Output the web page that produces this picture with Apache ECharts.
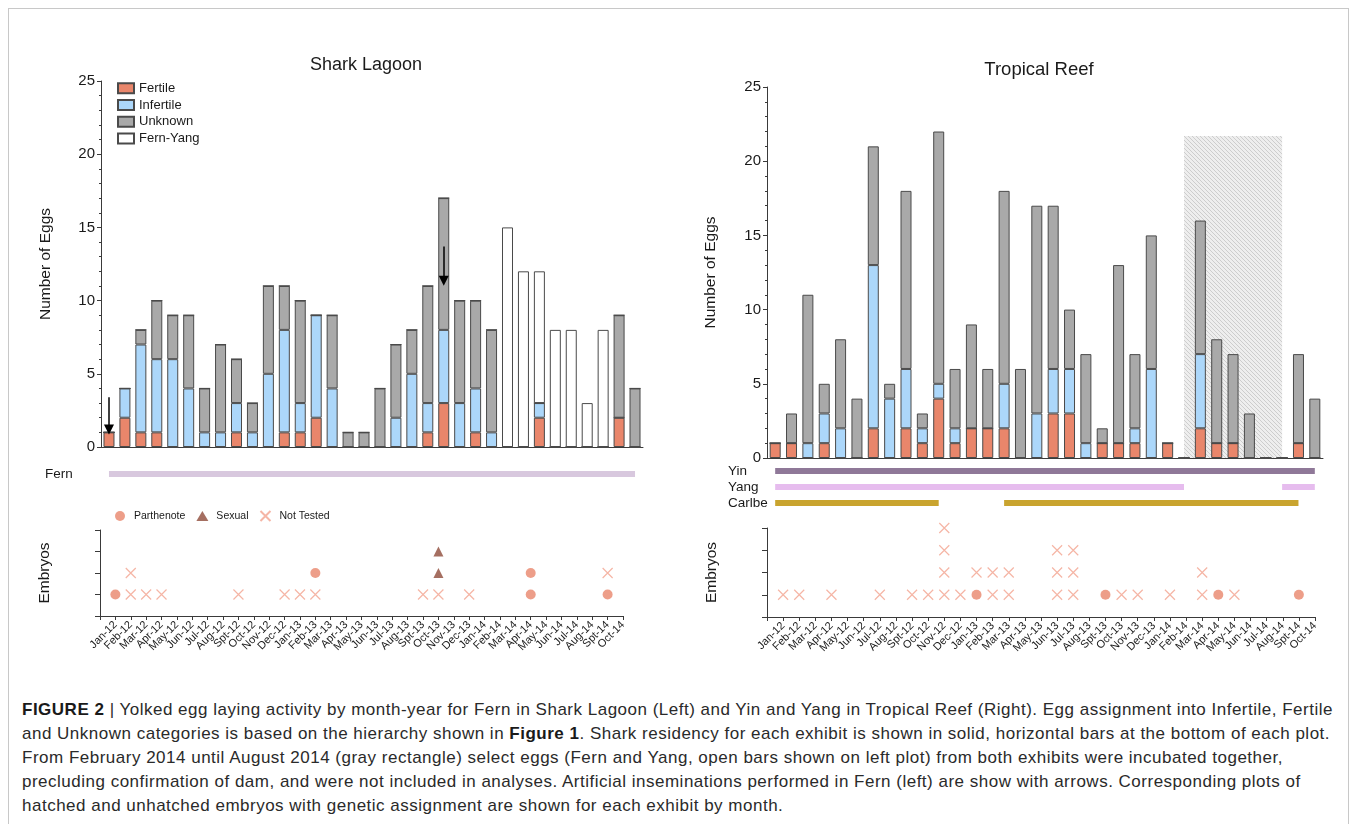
<!DOCTYPE html>
<html>
<head>
<meta charset="utf-8">
<title>Figure 2</title>
<script src="https://cdn.jsdelivr.net/npm/echarts@6.0.0/dist/echarts.min.js"></script>
<style>
  html, body { margin: 0; padding: 0; background: #fff; }
  #frame { position: absolute; left: 8px; top: 8px; width: 1339px; height: 830px; border: 1px solid #c8c8c8; }
  #chart { position: absolute; left: 0; top: 0; width: 1356px; height: 690px; }
  #caption {
    position: absolute; left: 22px; top: 698px; width: 1330px;
    font-family: "Liberation Sans", Arial, sans-serif; font-size: 17px; line-height: 24px;
    letter-spacing: 0.5px; color: #2a2a2a; white-space: nowrap;
  }
  #caption b { font-weight: bold; color: #1a1a1a; }
</style>
</head>
<body>
<div id="frame"></div>
<div id="chart"></div>
<div id="caption">
<b>FIGURE 2</b> | Yolked egg laying activity by month-year for Fern in Shark Lagoon (Left) and Yin and Yang in Tropical Reef (Right). Egg assignment into Infertile, Fertile<br>
and Unknown categories is based on the hierarchy shown in <b>Figure 1</b>. Shark residency for each exhibit is shown in solid, horizontal bars at the bottom of each plot.<br>
From February 2014 until August 2014 (gray rectangle) select eggs (Fern and Yang, open bars shown on left plot) from both exhibits were incubated together,<br>
precluding confirmation of dam, and were not included in analyses. Artificial inseminations performed in Fern (left) are show with arrows. Corresponding plots of<br>
hatched and unhatched embryos with genetic assignment are shown for each exhibit by month.
</div>
<script>
// month-year categories (labels as printed in the figure)
const months = ['Jan-12','Feb-12','Mar-12','Apr-12','May-12','Jun-12','Jul-12','Aug-12','Spt-12','Oct-12','Nov-12','Dec-12',
  'Jan-13','Feb-13','Mar-13','Apr-13','May-13','Jun-13','Jul-13','Aug-13','Spt-13','Oct-13','Nov-13','Dec-13',
  'Jan-14','Feb-14','Mar-14','Apr-14','May-14','Jun-14','Jul-14','Aug-14','Spt-14','Oct-14'];

// Shark Lagoon (Fern) egg counts
const lagoonFertile   = [1,2,1,1,0,0,0,0,1,0,0,1, 1,2,0,0,0,0,0,0,1,3,0,1, 0,0,0,2,0,0,0,0,2,0];
const lagoonInfertile = [0,2,6,5,6,4,1,1,2,1,5,7, 2,7,4,0,0,0,2,5,2,5,3,3, 1,0,0,1,0,0,0,0,0,0];
const lagoonUnknown   = [0,0,1,4,3,5,3,6,3,2,6,3, 7,0,5,1,1,4,5,3,8,9,7,6, 7,0,0,0,0,0,0,0,7,4];
const lagoonFernYang  = [0,0,0,0,0,0,0,0,0,0,0,0, 0,0,0,0,0,0,0,0,0,0,0,0, 0,15,12,9,8,8,3,8,0,0];

// Tropical Reef (Yin and Yang) egg counts
const reefFertile   = [1,1,0,1,0,0,2,0,2,1,4,1, 2,2,2,0,0,3,3,0,1,1,1,0, 1,0,2,1,1,0,0,0,1,0];
const reefInfertile = [0,0,1,2,2,0,11,4,4,1,1,1, 0,0,3,0,3,3,3,1,0,0,1,6, 0,0,5,0,0,0,0,0,0,0];
const reefUnknown   = [0,2,10,2,6,4,8,1,12,1,17,4, 7,4,13,6,14,11,4,6,1,12,5,9, 0,0,9,7,6,3,0,0,6,4];

// artificial inseminations in Fern: [month, arrow start, arrow end]
const inseminations = [['Jan-12', 3.4, 1.2], ['Oct-13', 13.7, 11.35]];
// pooled incubation period (gray rectangle): [from, to, height]
const pooledPeriod = ['Feb-14', 'Aug-14', 21.7];

// residency periods
const fernStay   = [['Jan-12', 'Oct-14']];
const yinStay    = [['Jan-12', 'Oct-14']];
const yangStay   = [['Jan-12', 'Feb-14'], ['Aug-14', 'Oct-14']];
const carlbeStay = [['Jan-12', 'Nov-12'], ['Mar-13', 'Spt-14']];

// embryos: [month, embryo number]
const lagoonParthenote = [['Jan-12',1],['Feb-13',2],['Apr-14',1],['Apr-14',2],['Spt-14',1]];
const lagoonSexual     = [['Oct-13',2],['Oct-13',3]];
const lagoonNotTested  = [['Feb-12',1],['Feb-12',2],['Mar-12',1],['Apr-12',1],['Spt-12',1],['Dec-12',1],
  ['Jan-13',1],['Feb-13',1],['Spt-13',1],['Oct-13',1],['Dec-13',1],['Spt-14',2]];
const reefParthenote = [['Jan-13',1],['Spt-13',1],['Apr-14',1],['Spt-14',1]];
const reefNotTested  = [['Jan-12',1],['Feb-12',1],['Apr-12',1],['Jul-12',1],['Spt-12',1],['Oct-12',1],
  ['Nov-12',1],['Nov-12',2],['Nov-12',3],['Nov-12',4],['Dec-12',1],['Jan-13',2],['Feb-13',1],['Feb-13',2],
  ['Mar-13',1],['Mar-13',2],['Jun-13',1],['Jun-13',2],['Jun-13',3],['Jul-13',1],['Jul-13',2],['Jul-13',3],
  ['Oct-13',1],['Nov-13',1],['Jan-14',1],['Mar-14',1],['Mar-14',2],['May-14',1]];

const FONT = '"Liberation Sans", Arial, sans-serif';
const INK = '#1a1a1a';
const AXIS = '#3a3a3a';
const COL = { fertile: '#E9866B', infertile: '#ACD7FA', unknown: '#A9A9A9', fernYang: '#FFFFFF' };
const EMB = { parthenote: '#E9866B', sexual: '#8F4B3A', notTested: '#F3A28E' };
const CROSS = 'path://M0,0L10,10M10,0L0,10';

function hatch() {
  const c = document.createElement('canvas');
  c.width = 4; c.height = 4;
  const g = c.getContext('2d');
  g.fillStyle = '#eeeeee'; g.fillRect(0, 0, 4, 4);
  g.strokeStyle = '#cdcdcd'; g.lineWidth = 1;
  g.beginPath(); g.moveTo(0, 0); g.lineTo(4, 4); g.stroke();
  return c;
}

const embryoCats = [''].concat(months);

let myChart = echarts.init(document.getElementById('chart'));

function barX(gi) {
  return {
    type: 'category', gridIndex: gi, data: months,
    axisLine: { lineStyle: { color: AXIS } },
    axisTick: { alignWithLabel: true, interval: 0, length: 4, lineStyle: { color: AXIS } },
    axisLabel: { show: false }
  };
}
function barY(gi, gap) {
  return {
    type: 'value', gridIndex: gi, min: 0, max: 25, interval: 5,
    name: 'Number of Eggs', nameLocation: 'middle', nameGap: gap,
    nameTextStyle: { fontFamily: FONT, fontSize: 15.5, color: INK },
    axisLine: { show: true, lineStyle: { color: AXIS } },
    axisTick: { show: true, length: 4, lineStyle: { color: AXIS } },
    minorTick: { show: true, splitNumber: 5, length: 2, lineStyle: { color: AXIS } },
    axisLabel: { fontFamily: FONT, fontSize: 15, color: INK, margin: 6 },
    splitLine: { show: false }
  };
}
function stayX(gi) {
  return { type: 'category', gridIndex: gi, data: months, show: false };
}
function stayY(gi, names, margin) {
  return {
    type: 'category', gridIndex: gi, data: names, inverse: true,
    axisLine: { show: false }, axisTick: { show: false },
    axisLabel: { interval: 0, align: 'left', margin: margin, fontFamily: FONT, fontSize: 13.5, color: INK }
  };
}
function embX(gi) {
  return {
    type: 'category', gridIndex: gi, data: embryoCats, boundaryGap: false,
    axisLine: { lineStyle: { color: AXIS } },
    axisTick: { interval: 0, length: 4, lineStyle: { color: AXIS } },
    axisLabel: { interval: 0, rotate: 45, margin: 7, fontFamily: FONT, fontSize: 11, color: INK }
  };
}
function embY(gi, gap) {
  return {
    type: 'value', gridIndex: gi, min: 0, max: 4, interval: 1,
    name: 'Embryos', nameLocation: 'middle', nameGap: gap,
    nameTextStyle: { fontFamily: FONT, fontSize: 15.5, color: INK },
    axisLine: { show: true, lineStyle: { color: AXIS } },
    axisTick: { show: true, length: 5, lineStyle: { color: AXIS } },
    axisLabel: { show: false },
    splitLine: { show: false }
  };
}

function stackBar(name, data, color, xi, stack) {
  return {
    name: name, type: 'bar', stack: stack, xAxisIndex: xi, yAxisIndex: xi,
    barWidth: 11, data: data, silent: true,
    itemStyle: { color: color, borderColor: '#4a4a4a', borderWidth: 1 }
  };
}

function staySeries(periods, name, color, gi) {
  return periods.map(function (p) {
    return {
      type: 'line', xAxisIndex: gi, yAxisIndex: gi, silent: true,
      showSymbol: false, symbol: 'none',
      lineStyle: { width: 6, color: color, cap: 'butt' },
      data: [[p[0], name], [p[1], name]]
    };
  });
}

function embSeries(name, data, gi) {
  let s = { name: name, type: 'scatter', xAxisIndex: gi, yAxisIndex: gi, data: data, silent: true, symbolSize: 10 };
  if (name === 'Parthenote') {
    s.symbol = 'circle';
    s.itemStyle = { color: EMB.parthenote };
  } else if (name === 'Sexual') {
    s.symbol = 'triangle';
    s.itemStyle = { color: EMB.sexual };
  } else {
    s.symbol = CROSS;
    s.itemStyle = { color: 'rgba(0,0,0,0)', borderColor: EMB.notTested, borderWidth: 1.2 };
  }
  return s;
}

let arrowSeries = {
  type: 'line', xAxisIndex: 0, yAxisIndex: 0, data: [], silent: true,
  markLine: {
    silent: true, symbol: ['none', 'triangle'], symbolSize: [10, 10],
    label: { show: false },
    lineStyle: { color: '#000', width: 1.5, type: 'solid' },
    data: inseminations.map(function (a) {
      return [{ coord: [a[0], a[1]] }, { coord: [a[0], a[2]] }];
    })
  }
};

let pooledSeries = {
  type: 'line', xAxisIndex: 3, yAxisIndex: 3, data: [], silent: true, z: 1,
  markArea: {
    silent: true,
    itemStyle: { color: { image: hatch(), repeat: 'repeat' } },
    data: [[{ xAxis: pooledPeriod[0], yAxis: 0 }, { xAxis: pooledPeriod[1], yAxis: pooledPeriod[2] }]]
  }
};

let option = {
  animation: false,
  textStyle: { fontFamily: FONT },
  title: [
    { text: 'Shark Lagoon', left: 361, top: 51, textAlign: 'center',
      textStyle: { fontFamily: FONT, fontSize: 18, fontWeight: 'normal', color: INK } },
    { text: 'Tropical Reef', left: 1034, top: 55, textAlign: 'center',
      textStyle: { fontFamily: FONT, fontSize: 18.5, fontWeight: 'normal', color: INK } }
  ],
  legend: [
    {
      data: ['Fertile', 'Infertile', 'Unknown', 'Fern-Yang'],
      orient: 'vertical', left: 112, top: 75, itemWidth: 16, itemHeight: 10, itemGap: 0,
      icon: 'rect', selectedMode: false,
      textStyle: { fontFamily: FONT, fontSize: 13, color: INK, lineHeight: 16.7 }
    },
    {
      data: ['Parthenote', 'Sexual', 'Not Tested'],
      orient: 'horizontal', left: 110, top: 505, itemWidth: 12, itemHeight: 10, itemGap: 11,
      selectedMode: false,
      textStyle: { fontFamily: FONT, fontSize: 10.5, color: INK, padding: [0, 0, 0, 3] }
    }
  ],
  grid: [
    { left: 101, top: 81, width: 542, height: 366 },
    { left: 101, top: 466, width: 542, height: 16 },
    { left: 100, top: 530, width: 523, height: 86 },
    { left: 767, top: 87, width: 556, height: 371 },
    { left: 767, top: 463, width: 556, height: 48 },
    { left: 767, top: 528, width: 548, height: 89 }
  ],
  xAxis: [barX(0), stayX(1), embX(2), barX(3), stayX(4), embX(5)],
  yAxis: [barY(0, 47), stayY(1, ['Fern'], 56), embY(2, 47), barY(3, 48),
    stayY(4, ['Yin', 'Yang', 'Carlbe'], 39), embY(5, 47)],
  series: [
    stackBar('Fertile', lagoonFertile, COL.fertile, 0, 'lagoon'),
    stackBar('Infertile', lagoonInfertile, COL.infertile, 0, 'lagoon'),
    stackBar('Unknown', lagoonUnknown, COL.unknown, 0, 'lagoon'),
    stackBar('Fern-Yang', lagoonFernYang, COL.fernYang, 0, 'lagoon'),
    arrowSeries,
    pooledSeries,
    stackBar('Fertile', reefFertile, COL.fertile, 3, 'reef'),
    stackBar('Infertile', reefInfertile, COL.infertile, 3, 'reef'),
    stackBar('Unknown', reefUnknown, COL.unknown, 3, 'reef'),
    embSeries('Parthenote', lagoonParthenote, 2),
    embSeries('Sexual', lagoonSexual, 2),
    embSeries('Not Tested', lagoonNotTested, 2),
    embSeries('Parthenote', reefParthenote, 5),
    embSeries('Not Tested', reefNotTested, 5)
  ].concat(
    staySeries(fernStay, 'Fern', '#D8C8DE', 1),
    staySeries(yinStay, 'Yin', '#8F7898', 4),
    staySeries(yangStay, 'Yang', '#E6BCEE', 4),
    staySeries(carlbeStay, 'Carlbe', '#C9A42F', 4)
  )
};
myChart.setOption(option);

window.addEventListener('resize', function () {
  myChart.resize();
});
</script>
</body>
</html>
